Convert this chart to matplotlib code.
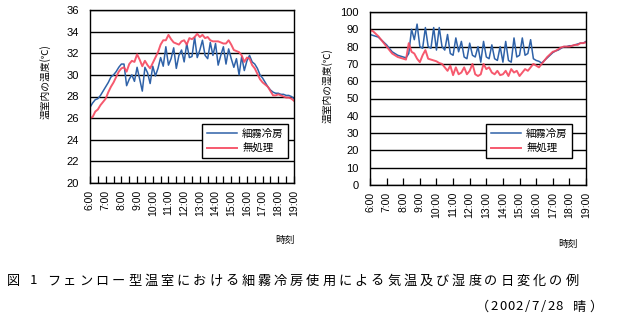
import numpy as np
import matplotlib
matplotlib.use("Agg")
import matplotlib.pyplot as plt
from matplotlib.ticker import MultipleLocator, FixedLocator

W, H = 617, 326
JP = ["Noto Sans CJK JP", "DejaVu Sans"]
plt.rcParams["font.family"] = ["Liberation Sans", "Noto Sans CJK JP", "DejaVu Sans"]

# 10-minute readings, 6:00 - 19:00
hour_ticks = list(range(6, 20))
hour_labels = [f"{h}:00" for h in hour_ticks]
series_names = ["細霧冷房", "無処理"]

temp_mist = [27.0, 27.4, 27.7, 27.8, 28.1, 28.5, 28.9, 29.3, 29.8, 30.0, 30.3, 30.7,
             31.0, 31.0, 29.0, 29.6, 30.0, 29.4, 30.7, 29.6, 28.5, 30.7, 30.2, 29.2,
             30.8, 29.9, 30.6, 31.6, 30.8, 32.6, 30.9, 31.5, 32.5, 30.6, 31.8, 32.3,
             31.2, 32.9, 31.6, 31.7, 33.5, 31.6, 32.3, 33.2, 31.8, 31.5, 33.0, 31.8,
             32.9, 30.9, 31.8, 32.6, 31.0, 32.4, 31.5, 30.7, 31.5, 30.0, 31.7, 30.4,
             31.3, 31.8, 31.2, 31.0, 30.6, 30.0, 29.7, 29.3, 28.9, 28.6, 28.4, 28.3,
             28.3, 28.2, 28.2, 28.1, 28.1, 28.0, 27.8]
temp_ctrl = [26.0, 26.1, 26.6, 26.8, 27.2, 27.5, 27.8, 28.4, 28.9, 29.3, 29.8, 30.3,
             30.6, 30.7, 30.3, 31.0, 31.3, 31.2, 31.9, 31.4, 30.8, 31.3, 30.9, 30.6,
             31.1, 31.6, 32.1, 32.8, 33.2, 33.2, 33.7, 33.3, 33.0, 32.9, 32.8, 33.1,
             33.2, 32.8, 33.4, 33.3, 33.5, 33.8, 33.5, 33.7, 33.4, 33.5, 33.2, 33.1,
             33.1, 33.1, 33.0, 32.9, 32.9, 33.2, 32.8, 32.3, 32.2, 32.1, 31.8, 31.2,
             31.6, 31.5, 30.9, 30.6, 30.1, 29.6, 29.3, 29.1, 28.9, 28.5, 28.1, 28.1,
             28.2, 28.1, 28.0, 27.9, 27.9, 27.8, 27.6]
hum_mist = [87, 86.5, 86, 85.5, 84, 82.5, 81, 79, 77, 76, 75, 74.5,
            74, 73.5, 76, 90, 84, 93, 80, 79, 91, 80, 79, 91,
            78, 91, 80, 78, 87, 76, 75, 85, 77, 83, 74, 73,
            82, 75, 74, 80, 71, 83, 74, 73, 81, 73, 72, 80,
            71, 83, 72, 71, 85, 74, 75, 85, 75, 76, 84, 73,
            72, 71.5, 70.5, 72, 73.5, 75, 76.5, 77.5, 78, 79, 80, 80,
            80.5, 80.5, 81, 81.5, 82, 82, 83]
hum_ctrl = [89.5, 89, 87.5, 86, 84, 82, 80, 78, 76, 75, 74, 73.5,
            73, 72.5, 82, 77, 76, 73, 71, 75, 78, 73, 72.5, 72,
            71.5, 70.5, 70, 68, 66, 69, 63.5, 68, 64, 65, 68, 64,
            66, 70, 64, 63, 64, 70, 67, 68, 65, 64, 66, 63.5,
            64, 66, 63, 67, 65, 66, 63, 65, 67, 66, 68, 70,
            69, 68, 70, 72, 74, 75.5, 77, 77.5, 78.5, 79.5, 80, 80,
            80, 80.5, 81, 81, 82, 82, 82.5]

for s in (temp_mist, temp_ctrl, hum_mist, hum_ctrl):
    assert len(s) == 79, len(s)
t = 6 + np.arange(79) / 6.0

BLUE = "#2F62A8"
RED = "#F5475E"

fig = plt.figure(figsize=(W / 100, H / 100), dpi=100)


def px_axes(x0, y0, x1, y1):
    return fig.add_axes([x0 / W, 1 - y1 / H, (x1 - x0) / W, (y1 - y0) / H])


def style(ax, ylim, ystep, minor):
    ax.set_xlim(6, 19)
    ax.set_ylim(*ylim)
    ax.yaxis.set_major_locator(MultipleLocator(ystep))
    ax.set_xticks(hour_ticks)
    ax.set_xticklabels(hour_labels, rotation=90, fontsize=7.5)
    if minor:
        ax.xaxis.set_minor_locator(FixedLocator(np.arange(6.5, 19, 1.0)))
    ax.tick_params(axis="x", which="both", direction="in", length=5, width=0.9,
                   pad=5, color="black")
    ax.tick_params(axis="y", length=0, pad=8, labelsize=8)
    ax.grid(axis="y", color="black", linewidth=1.0)
    ax.set_axisbelow(True)
    for sp in ax.spines.values():
        sp.set_color("black")
        sp.set_linewidth(1.0)


def draw(ax, a, b, anchor):
    ax.plot(t, a, color=BLUE, lw=1.1, label=series_names[0])
    ax.plot(t, b, color=RED, lw=1.4, alpha=0.9, label=series_names[1])
    leg = ax.legend(loc="upper left", bbox_to_anchor=anchor, prop={"family": JP, "size": 7.5},
                    frameon=True, fancybox=False, edgecolor="black", framealpha=1,
                    handlelength=2.9, handletextpad=0.5, labelspacing=0.45,
                    borderpad=0.45, borderaxespad=0)
    leg.get_frame().set_linewidth(1.0)


ax1 = px_axes(90, 10, 294, 183)
style(ax1, (20, 36), 2, True)
draw(ax1, temp_mist, temp_ctrl, (0.549, 0.341))

ax2 = px_axes(370, 12, 586, 185)
style(ax2, (0, 100), 10, False)
draw(ax2, hum_mist, hum_ctrl, (0.537, 0.353))


def ftext(x, y, s, **kw):
    fig.text(x / W, 1 - y / H, s, **kw)


ftext(45, 82, "温室内の温度(℃)", rotation=90, ha="center", va="center", family=JP, fontsize=7)
ftext(327, 86, "温室内の湿度(℃)", rotation=90, ha="center", va="center", family=JP, fontsize=7)
ftext(285, 240, "時刻", ha="center", va="center", family=JP, fontsize=7)
ftext(568, 244, "時刻", ha="center", va="center", family=JP, fontsize=7)


def spaced(s, x0, y, full, half, size):
    x = x0
    for ch in s:
        adv = half if ord(ch) < 0x2000 else full
        if ch != " ":
            ftext(x + adv / 2, y, ch, ha="center", va="center", family=JP, fontsize=size)
        x += adv
    return x


def width(s, full, half):
    return sum(half if ord(c) < 0x2000 else full for c in s)


caption = "図 1 フェンロー型温室における細霧冷房使用による気温及び湿度の日変化の例"
spaced(caption, 5, 281, 16.2, 8.1, 9.5)
note = "（2002/7/28 晴）"
spaced(note, 604 - width(note, 16.2, 8.1), 307, 16.2, 8.1, 9.5)

fig.savefig("out.png", dpi=100)
